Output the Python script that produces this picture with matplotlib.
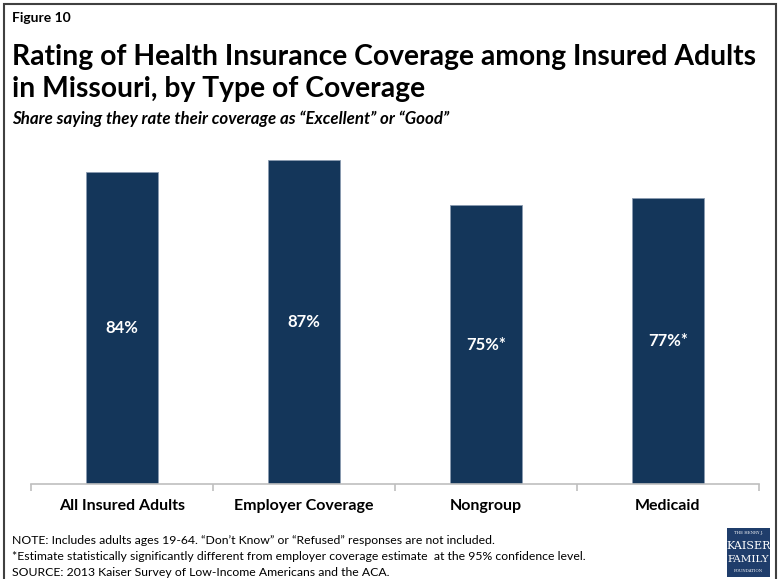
import matplotlib.pyplot as plt
from matplotlib.patches import Rectangle

# Rating of coverage by type, share "Excellent" or "Good"
categories = ['All Insured Adults', 'Employer Coverage', 'Nongroup', 'Medicaid']
values = [84, 87, 75, 77]
value_labels = ['84%', '87%', '75%*', '77%*']

navy = '#14365a'
W, H = 779, 579

plt.rcParams['font.family'] = ['Lato', 'DejaVu Sans']

fig = plt.figure(figsize=(W / 100, H / 100), dpi=100)
fig.patch.set_facecolor('white')


def fy(py):
    return 1 - py / H


def fx(px):
    return px / W


# outer frame
fig.patches.append(Rectangle((fx(4), fy(600)), fx(772), (600 - 4) / H,
                             transform=fig.transFigure, fill=False,
                             edgecolor='#404040', linewidth=1.5))

ax = fig.add_axes([fx(31), fy(484), fx(728), 372 / H])
x = range(len(categories))
bars = ax.bar(x, values, width=0.4, color=navy, edgecolor='#8a9bb0', linewidth=0.6)
for xi, v, lab in zip(x, values, value_labels):
    ax.text(xi, v / 2, lab, ha='center', va='center', color='white',
            fontsize=12, fontweight='bold')

ax.set_xlim(-0.5, len(categories) - 0.5)
ax.set_ylim(0, 100)
ax.set_yticks([])
for s in ['top', 'right', 'left']:
    ax.spines[s].set_visible(False)
ax.spines['bottom'].set_color('#bfbfbf')
ax.spines['bottom'].set_linewidth(1.2)
ax.set_xticks(list(x))
ax.set_xticklabels(categories, fontsize=11.5, fontweight='bold')
ax.tick_params(axis='x', which='major', length=0, pad=11)
ax.set_xticks([i - 0.5 for i in range(len(categories) + 1)], minor=True)
ax.tick_params(axis='x', which='minor', length=5, color='#bfbfbf', width=1.2)

# headings
fig.text(fx(12), fy(18), 'Figure 10', fontsize=10, fontweight='bold', va='center')
fig.text(fx(12), fy(57), 'Rating of Health Insurance Coverage among Insured Adults',
         fontsize=20.3, fontweight='bold', va='center')
fig.text(fx(12), fy(89), 'in Missouri, by Type of Coverage',
         fontsize=20.3, fontweight='bold', va='center')
fig.text(fx(12), fy(119), 'Share saying they rate their coverage as \u201cExcellent\u201d or \u201cGood\u201d',
         fontsize=12.2, fontweight='bold', style='italic', va='center')

# notes
notes = [
    'NOTE: Includes adults ages 19-64. \u201cDon\u2019t Know\u201d or \u201cRefused\u201d responses are not included.',
    '*Estimate statistically significantly different from employer coverage estimate  at the 95% confidence level.',
    'SOURCE: 2013 Kaiser Survey of Low-Income Americans and the ACA.',
]
for i, n in enumerate(notes):
    fig.text(fx(12), fy(541 + 16 * i), n, fontsize=8.8, va='center')

# foundation logo
fig.patches.append(Rectangle((fx(727), fy(577)), fx(43), 49 / H,
                             transform=fig.transFigure, facecolor='#1f3d6b',
                             edgecolor='none'))
fig.text(fx(748.5), fy(533), 'THE HENRY J.', fontsize=2.8, color='white',
         family='DejaVu Serif', ha='center', va='center')
fig.text(fx(748.5), fy(546), 'KAISER', fontsize=8, color='white',
         family='DejaVu Serif', ha='center', va='center')
fig.text(fx(748.5), fy(559), 'FAMILY', fontsize=7.5, color='white',
         family='DejaVu Serif', ha='center', va='center')
fig.text(fx(748.5), fy(571), 'FOUNDATION', fontsize=2.8, color='white',
         family='DejaVu Serif', ha='center', va='center')

fig.savefig('out.png', dpi=100)
